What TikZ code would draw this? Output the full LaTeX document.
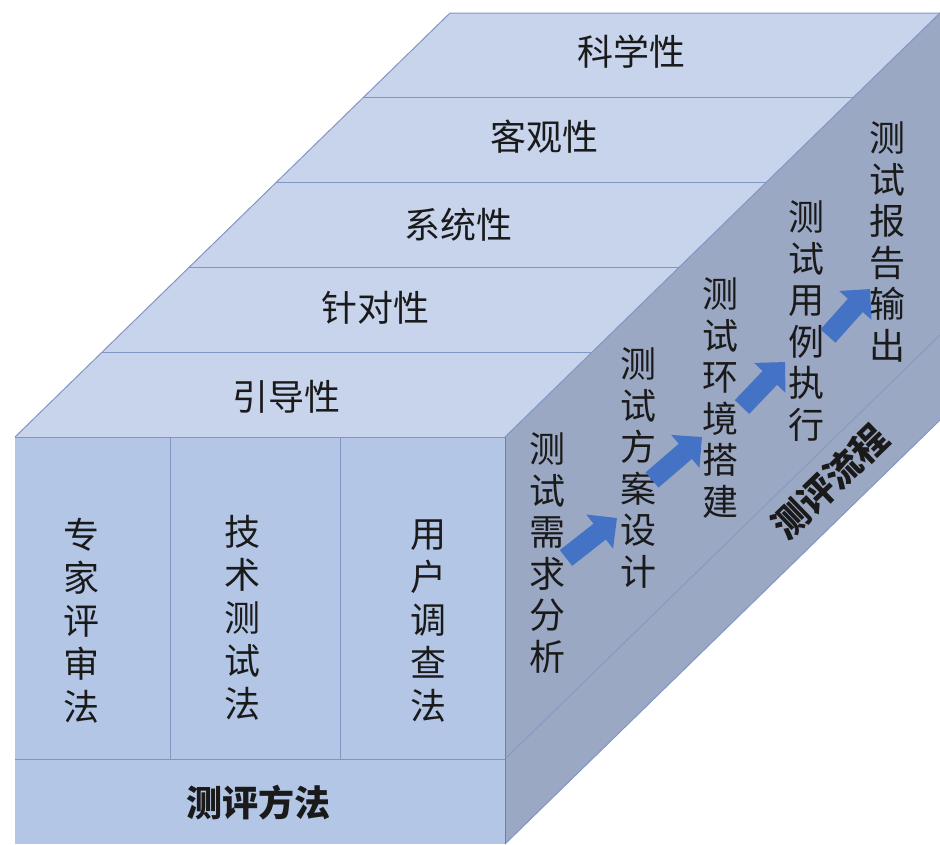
\documentclass[tikz,border=0pt]{standalone}
\usepackage{fontspec}
\setmainfont{Noto Sans CJK SC}
\usetikzlibrary{arrows.meta,calc}
\definecolor{topc}{HTML}{C7D4EC}
\definecolor{frontc}{HTML}{B4C6E6}
\definecolor{sidec}{HTML}{9BA8C3}
\definecolor{edgec}{HTML}{8196C4}
\definecolor{arrowc}{HTML}{4472C4}
\definecolor{txtc}{HTML}{1A1A1A}
\begin{document}
\begin{tikzpicture}[x=1pt,y=-1pt,
  edge/.style={draw=edgec, line width=1pt, line join=round},
  lbl/.style={text=txtc, inner sep=0pt, font=\fontsize{36}{36}\selectfont},
  vlbl/.style={text=txtc, inner sep=0pt, align=center, font=\fontsize{36}{43}\selectfont},
  svlbl/.style={text=txtc, inner sep=0pt, align=center, font=\fontsize{36}{41.5}\selectfont},
  blbl/.style={text=txtc, inner sep=0pt, font=\fontsize{36}{36}\selectfont\bfseries},
  flow/.style={draw=arrowc, line width=20pt, -{Triangle[length=22pt,width=42pt]}},
]
\useasboundingbox (0,0) rectangle (940,844);
% corners
\coordinate (F1) at (15,437);
\coordinate (F2) at (505,437);
\coordinate (F3) at (505,844);
\coordinate (F4) at (15,844);
\coordinate (B1) at (450,13);
\coordinate (B2) at (940,13);
\coordinate (B3) at (940,420);
\coordinate (D0) at (15,759);
\coordinate (D1) at (505,759);
\coordinate (D2) at (940,335);
% faces
\fill[topc] (F1) -- (B1) -- (B2) -- (F2) -- cycle;
\fill[sidec] (F2) -- (B2) -- (B3) -- (F3) -- cycle;
\fill[frontc] (F1) rectangle (F3);
% top face lines
\draw[edge] (F1) -- (B1) -- (B2);
\foreach \t in {0.2,0.4,0.6,0.8}
  \draw[edge] ($(F1)!\t!(B1)$) -- ($(F2)!\t!(B2)$);
\draw[edge] (F2) -- (B2);
% side face lines
\draw[edge] (F3) -- (B3);
\draw[edge, line width=0.7pt] (D1) -- (D2);
% front face lines
\draw[edge] (F1) -- (F2);
\draw[edge, draw=edgec!85!black] (F2) -- (F3);
\draw[edge] (D0) -- (D1);
\draw[edge, line width=0.7pt] (170,437) -- (170,759);
\draw[edge, line width=0.7pt] (340,437) -- (340,759);
% top labels
\node[lbl] (k1) at (631,52) {科学性};
\node[lbl] (k2) at (544,137) {客观性};
\node[lbl] (k3) at (458,225) {系统性};
\node[lbl] (k4) at (375,308) {针对性};
\node[lbl] (k5) at (286,397) {引导性};
% front labels
\node[vlbl] (m1) at (81,621) {专\\家\\评\\审\\法};
\node[vlbl] (m2) at (242,618) {技\\术\\测\\试\\法};
\node[vlbl] (m3) at (428,621) {用\\户\\调\\查\\法};
\node[blbl] (mt) at (258,803) {测评方法};
% side labels
\node[svlbl] (p1) at (547,553) {测\\试\\需\\求\\分\\析};
\node[svlbl] (p2) at (638,468) {测\\试\\方\\案\\设\\计};
\node[svlbl] (p3) at (720,398) {测\\试\\环\\境\\搭\\建};
\node[svlbl] (p4) at (806,321) {测\\试\\用\\例\\执\\行};
\node[svlbl] (p5) at (887,242) {测\\试\\报\\告\\输\\出};
\node[blbl, rotate=44] (pt) at (830,482) {测评流程};
% flow arrows
\coordinate (a1s) at (566,558); \coordinate (a1e) at (617,518);
\coordinate (a2s) at (652,480); \coordinate (a2e) at (702,437);
\coordinate (a3s) at (742,407); \coordinate (a3e) at (785,362);
\coordinate (a4s) at (828,336); \coordinate (a4e) at (870,289);
\draw[flow] (a1s) -- (a1e);
\draw[flow] (a2s) -- (a2e);
\draw[flow] (a3s) -- (a3e);
\draw[flow] (a4s) -- (a4e);
\end{tikzpicture}
\end{document}
